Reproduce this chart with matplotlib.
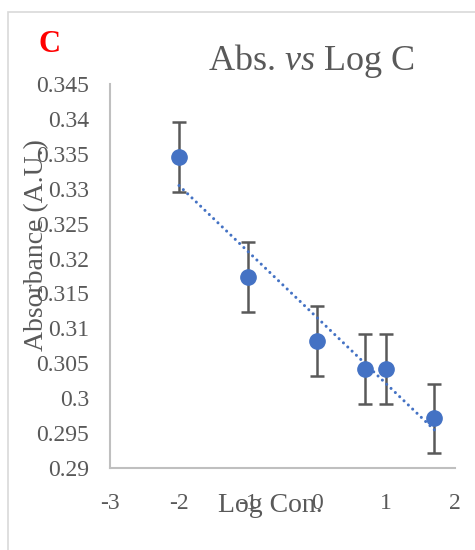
import matplotlib
matplotlib.use("Agg")
import matplotlib.pyplot as plt
import numpy as np
from matplotlib.patches import Rectangle

# Data
log_conc = [-2.0, -1.0, 0.0, 0.7, 1.0, 1.7]
absorbance = [0.3345, 0.3173, 0.3082, 0.3042, 0.3042, 0.2971]
abs_err = [0.005, 0.005, 0.005, 0.005, 0.005, 0.005]
x_ticks = [-3, -2, -1, 0, 1, 2]
y_ticks = [0.29, 0.295, 0.30, 0.305, 0.31, 0.315, 0.32, 0.325, 0.33, 0.335, 0.34, 0.345]
y_tick_labels = ["0.29", "0.295", "0.3", "0.305", "0.31", "0.315", "0.32",
                 "0.325", "0.33", "0.335", "0.34", "0.345"]

plt.rcParams["font.family"] = ["Liberation Serif", "DejaVu Serif"]
plt.rcParams["mathtext.fontset"] = "custom"
plt.rcParams["mathtext.rm"] = "Liberation Serif"
plt.rcParams["mathtext.it"] = "Liberation Serif:italic"

W, H = 475, 550
fig = plt.figure(figsize=(W / 100, H / 100), dpi=100)

# chart-area border
fig.patches.append(Rectangle((8 / W, -0.1), 1.2, 1.1 - 12 / H, transform=fig.transFigure,
                             fill=False, edgecolor="#d9d9d9", linewidth=1.2))

ax = fig.add_axes([110 / W, 1 - 468 / H, 345 / W, 384 / H])
blue = "#4472C4"
grey = "#595959"

ax.errorbar(log_conc, absorbance, yerr=abs_err, fmt="none", ecolor=grey,
            elinewidth=1.8, capsize=4.8, capthick=1.8, zorder=2)
ax.plot(log_conc, absorbance, "o", color=blue, markersize=11, zorder=3)

# linear trendline over the data range
slope, intercept = np.polyfit(log_conc, absorbance, 1)
xt = np.array([min(log_conc), max(log_conc)])
ax.plot(xt, slope * xt + intercept, color=blue, linewidth=2.2,
        linestyle=(0, (0.01, 1.95)), dash_capstyle="round", zorder=4)

ax.set_xlim(-3, 2)
ax.set_ylim(0.29, 0.345)
ax.set_xticks(x_ticks)
ax.set_xticklabels([str(t) for t in x_ticks])
ax.set_yticks(y_ticks)
ax.set_yticklabels(y_tick_labels)
ax.tick_params(length=0, labelsize=17, labelcolor=grey)
ax.tick_params(axis="y", pad=15)
ax.tick_params(axis="x", pad=18)
for s in ["top", "right"]:
    ax.spines[s].set_visible(False)
for s in ["left", "bottom"]:
    ax.spines[s].set_color("#bfbfbf")
    ax.spines[s].set_linewidth(1.5)
ax.set_facecolor("none")

fig.text(311 / W, 1 - 70 / H, r"Abs. $\mathit{vs}$ Log C", ha="center", va="baseline",
         fontsize=26, color=grey)
fig.text(38 / W, 1 - 52 / H, "C", ha="left", va="baseline", fontsize=22,
         fontweight="bold", color="red")
fig.text(37 / W, 1 - 245 / H, "Absorbance (A.U.)", rotation=90, ha="center", va="center",
         fontsize=20, color=grey)
fig.text(270 / W, 1 - 512 / H, "Log Con.", ha="center", va="baseline",
         fontsize=20, color=grey)

fig.savefig("out.png", dpi=100)
